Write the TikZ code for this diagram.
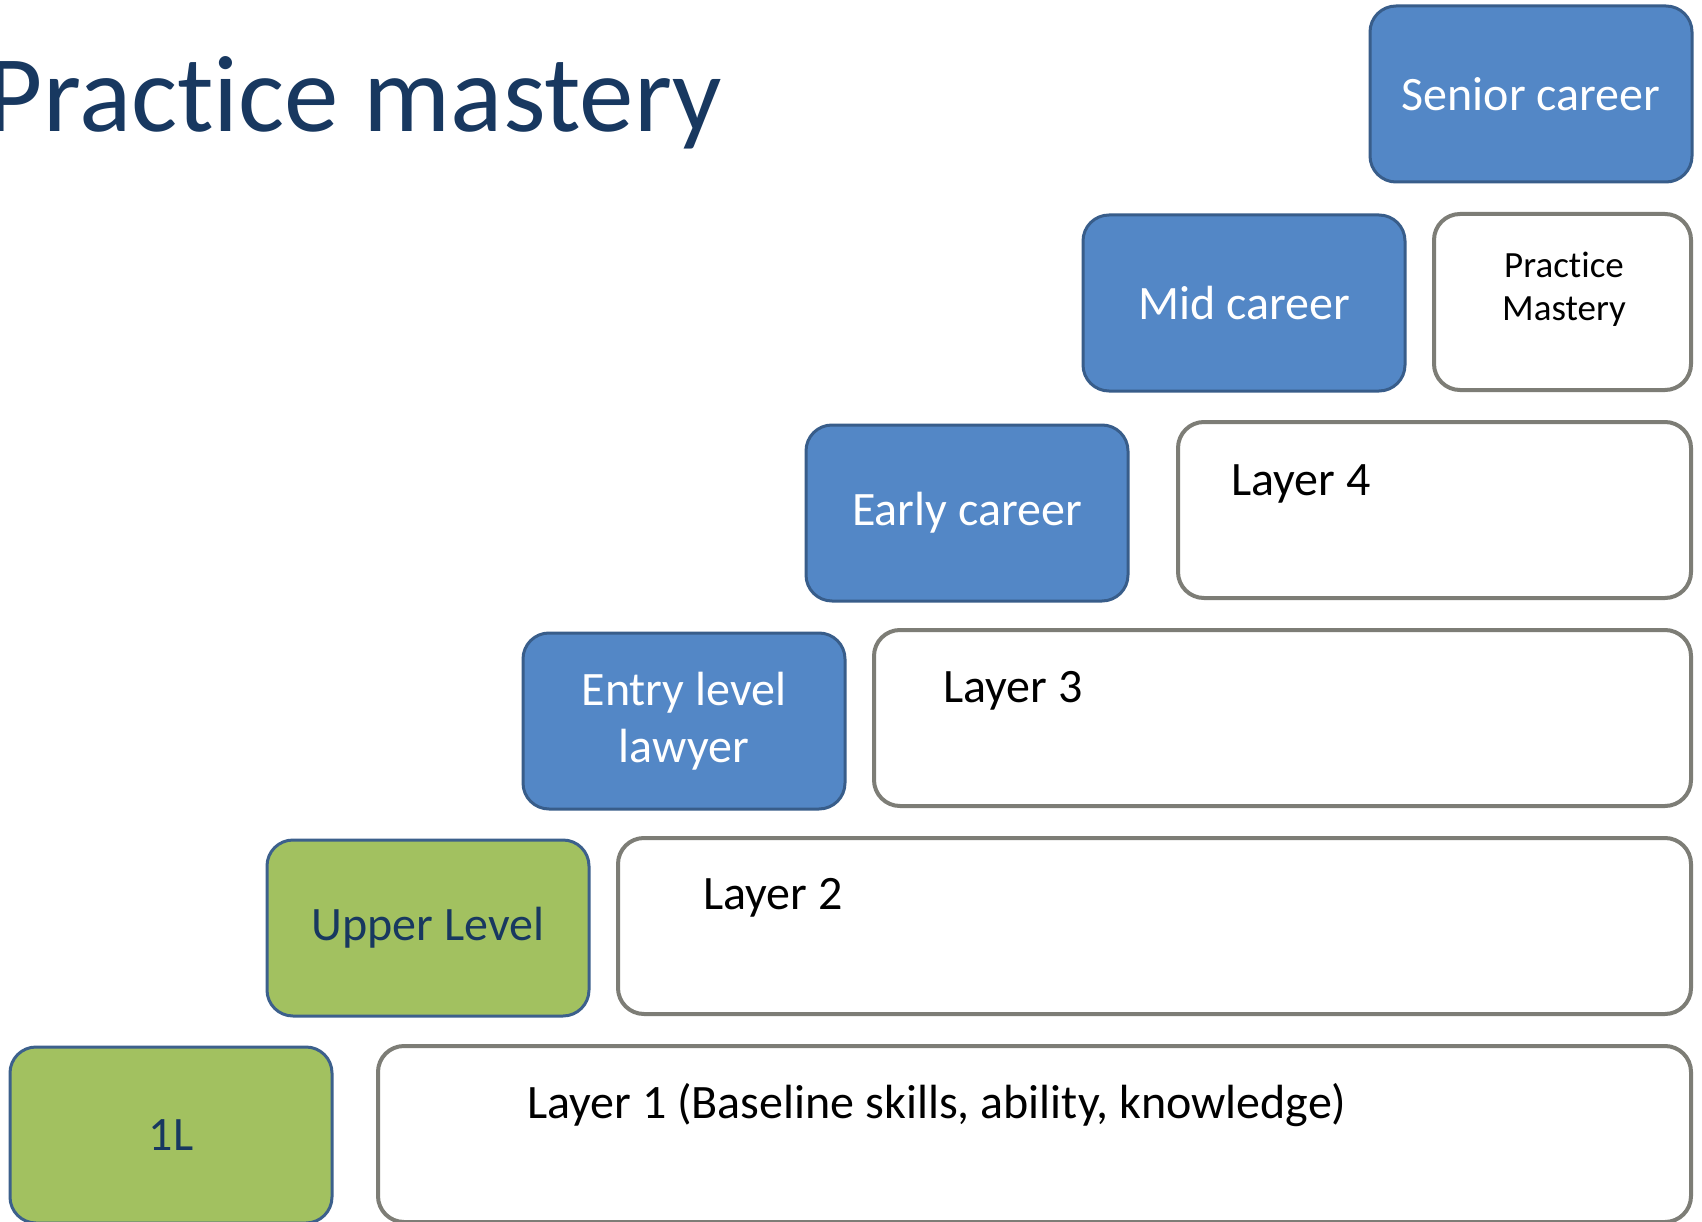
\documentclass[tikz,border=0pt]{standalone}
\usepackage{fontspec}
\setmainfont{Carlito}[Ligatures={CommonOff,ContextualOff}]
\definecolor{navy}{RGB}{24,56,96}
\definecolor{bfill}{RGB}{83,135,198}
\definecolor{bline}{RGB}{56,93,138}
\definecolor{gfill}{RGB}{162,193,96}
\definecolor{gline}{RGB}{60,96,140}
\definecolor{wline}{RGB}{125,125,118}
\begin{document}
\begin{tikzpicture}[x=1pt,y=-1pt,
  box/.style={rounded corners=26pt, minimum width=#1, minimum height=176pt, inner sep=0pt, align=center,
    font=\fontsize{48}{57}\selectfont},
  bluebox/.style={box=322pt, draw=bline, line width=3pt, fill=bfill, text=white},
  greenbox/.style={box=322pt, draw=gline, line width=3pt, fill=gfill, text=navy},
  layerbox/.style={box=#1, draw=wline, line width=4pt, fill=white},
  layertext/.style={anchor=base west, inner sep=0pt, font=\fontsize{48}{57}\selectfont, text=black}]
\useasboundingbox (0,0) rectangle (1702,1222);
\fill[white] (0,0) rectangle (1702,1222);
% title
\node[anchor=base east, inner sep=0pt, text=navy, font=\fontsize{109}{120}\selectfont] (title) at (722,132) {Pract\kern0pt ice mastery};
% left column (career stages)
\node[bluebox] (senior) at (1531,94) {Senior career};
\node[bluebox] (mid) at (1244,303) {Mid career};
\node[bluebox] (early) at (967,513) {Early career};
\node[bluebox] (entry) at (684,721) {Entry level\\lawyer};
\node[greenbox] (upper) at (428,928) {Upper Level};
\node[greenbox] (oneL) at (171,1135) {1L};
% right column (layers)
\node[layerbox=257pt] (mastery) at (1562.5,302) {};
\node[align=center, inner sep=0pt, font=\fontsize{37}{43}\selectfont, text=black] (masterytext) at (1564,289) {Pract\kern0pt ice\\Mastery};
\node[layerbox=513pt] (l4) at (1434.5,510) {};
\node[layertext] (l4t) at (1231,495) {Layer 4};
\node[layerbox=817pt] (l3) at (1282.5,718) {};
\node[layertext] (l3t) at (943,702) {Layer 3};
\node[layerbox=1073pt] (l2) at (1154.5,926) {};
\node[layertext] (l2t) at (703,909) {Layer 2};
\node[layerbox=1313pt] (l1) at (1034.5,1134) {};
\node[layertext] (l1t) at (527,1118) {Layer 1 (Baseline skills, ability, knowledge)};
\end{tikzpicture}
\end{document}
